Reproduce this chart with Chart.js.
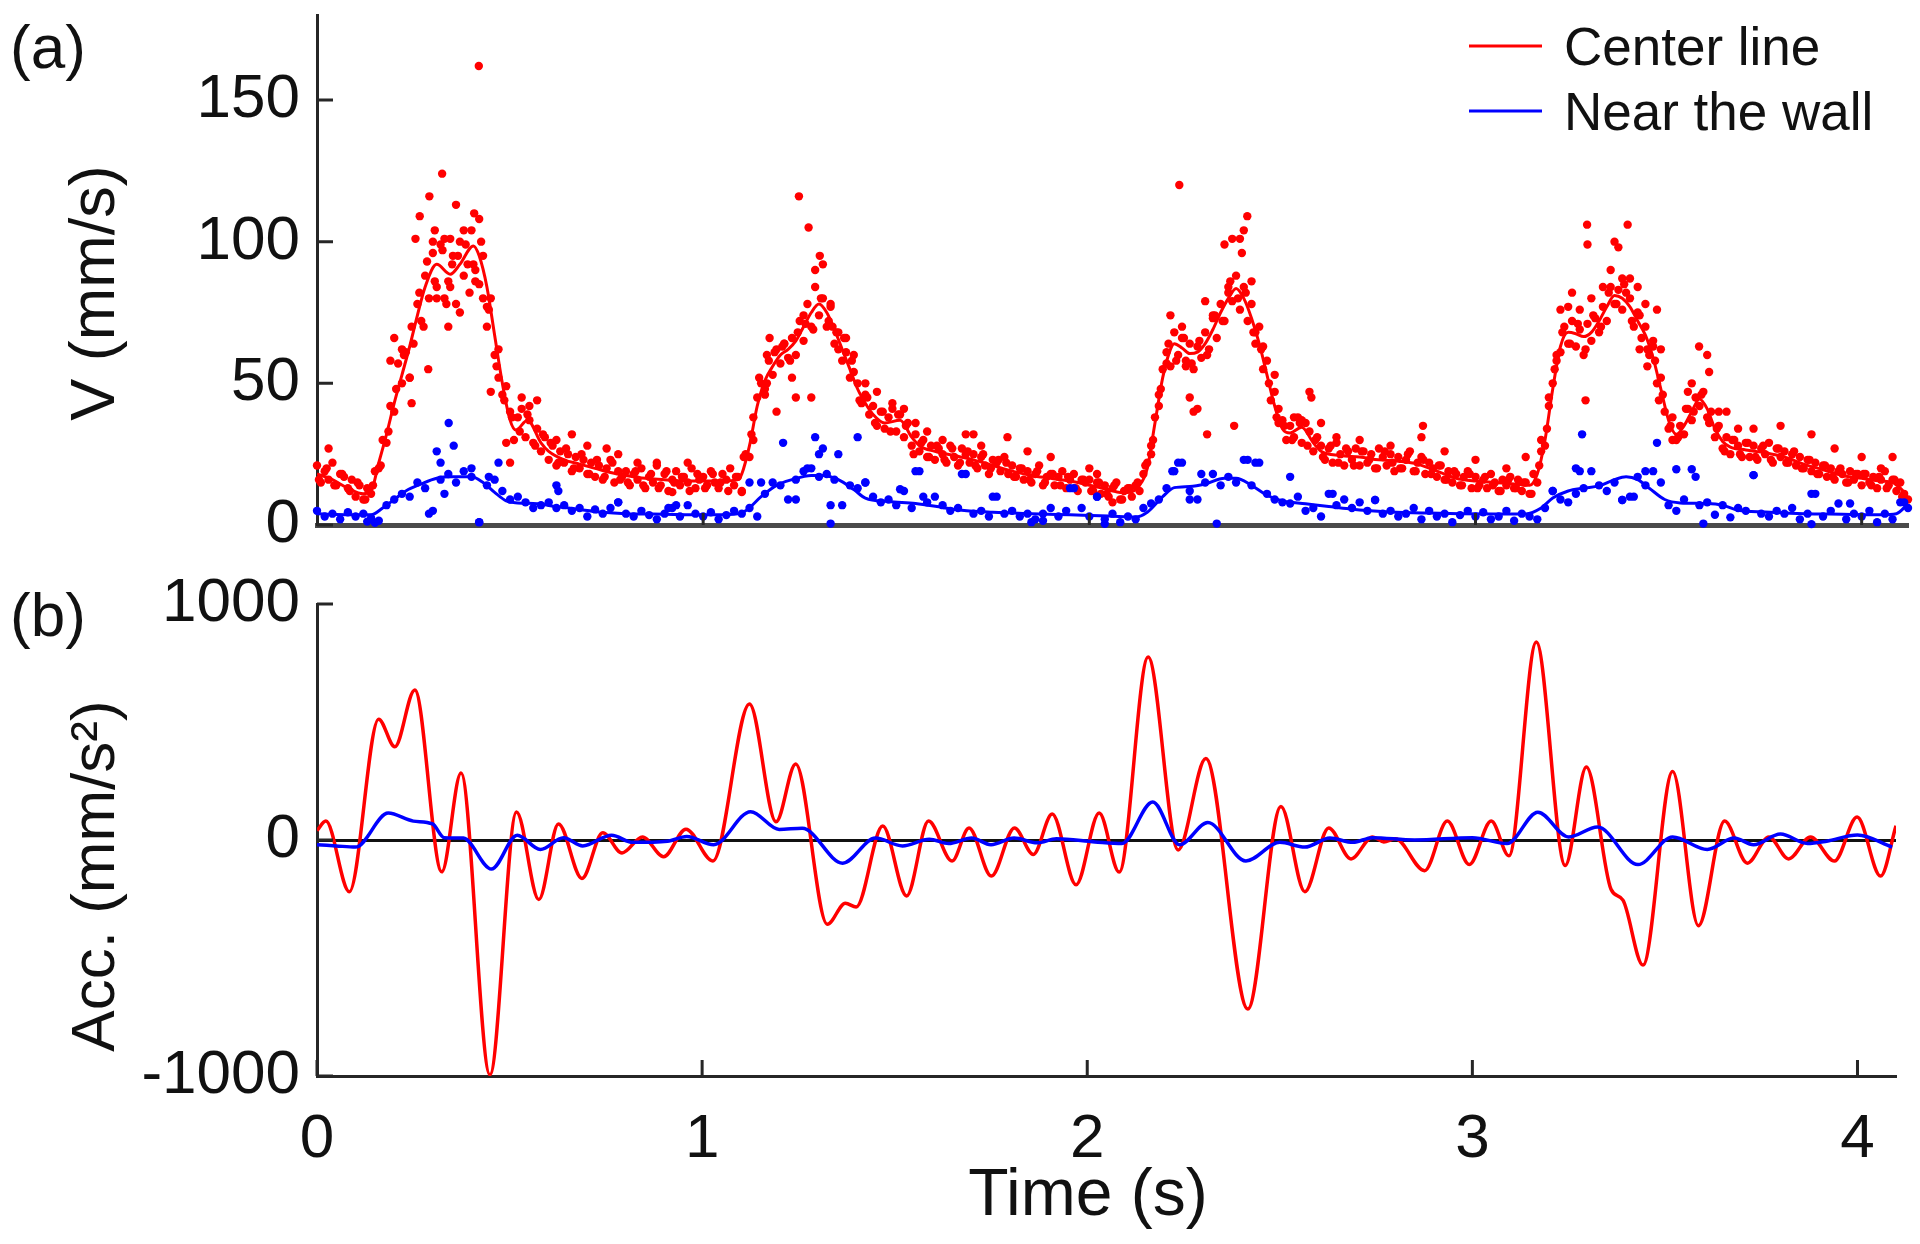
<!DOCTYPE html>
<html lang="en">
<head>
<meta charset="utf-8">
<title>Velocity and acceleration</title>
<script src="https://cdn.jsdelivr.net/npm/chart.js@4.4.1/dist/chart.umd.min.js"></script>
<style>
  html, body { margin: 0; padding: 0; background: #fff; }
  #figure { position: relative; width: 1920px; height: 1244px; overflow: hidden; }
  #figure canvas { position: absolute; left: 0; }
  #vel-chart { top: 0; }
  #acc-chart { top: 560px; }
</style>
</head>
<body>
<div id="figure">
  <canvas id="vel-chart" width="1920" height="560"></canvas>
  <canvas id="acc-chart" width="1920" height="684"></canvas>
</div>
<script>
/* ── Velocity / acceleration figure ─────────────────── */

// ── Tick labels ─────────────────────────────────────
const velTicks = [0, 50, 100, 150];
const accTicks = [-1000, 0, 1000];
const timeTicks = [0, 1, 2, 3, 4];

// ── (a) measured velocity, centre line (one sample every 10 ms) ──
const RED_DT = 0.01;
const redCloud = [
    21, 15, 19, 16, 22, 14, 18, 17, 13, 16,
    10, 14, 9, 13, 11, 19, 20, 30, 29, 42,
    40, 57, 50, 61, 52, 64, 78, 72, 88, 80,
    96, 84, 99, 80, 86, 92, 78, 100, 88, 92,
    104, 90, 85, 95, 77, 80, 60, 62, 46, 49,
    40, 30, 38, 41, 31, 37, 29, 34, 26, 31,
    23, 28, 21, 26, 22, 25, 19, 24, 20, 23,
    18, 22, 17, 21, 16, 20, 23, 15, 19, 17,
    19, 14, 18, 16, 20, 13, 17, 15, 21, 14,
    18, 12, 16, 19, 14, 17, 15, 20, 13, 16,
    17, 14, 19, 15, 13, 18, 16, 20, 14, 17,
    12, 25, 24, 38, 45, 50, 48, 58, 53, 62,
    57, 64, 59, 66, 60, 72, 65, 78, 70, 84,
    74, 80, 70, 77, 64, 68, 58, 61, 52, 54,
    50, 43, 46, 39, 42, 35, 40, 34, 38, 41,
    33, 39, 31, 36, 28, 32, 26, 30, 24, 28,
    23, 27, 25, 22, 28, 24, 21, 27, 25, 22,
    25, 20, 24, 21, 18, 23, 22, 19, 24, 18,
    21, 17, 20, 16, 19, 15, 18, 21, 14, 17,
    18, 14, 17, 19, 13, 16, 18, 12, 16, 15,
    16, 12, 15, 11, 14, 10, 13, 15, 9, 12,
    13, 10, 14, 12, 18, 22, 25, 38, 42, 55,
    61, 56, 68, 60, 66, 58, 64, 55, 63, 59,
    68, 62, 73, 66, 78, 72, 84, 79, 88, 76,
    84, 72, 78, 64, 70, 55, 58, 44, 47, 36,
    37, 30, 35, 31, 38, 29, 36, 33, 26, 31,
    28, 23, 27, 22, 29, 25, 21, 26, 23, 27,
    21, 26, 22, 25, 20, 27, 24, 21, 25, 19,
    24, 20, 23, 26, 19, 22, 24, 18, 22, 20,
    17, 21, 16, 19, 15, 18, 14, 17, 19, 13,
    17, 14, 16, 13, 18, 15, 12, 16, 14, 17,
    13, 16, 12, 15, 11, 18, 15, 26, 28, 42,
    50, 58, 61, 70, 64, 72, 63, 69, 60, 71,
    65, 73, 68, 77, 72, 84, 78, 83, 76, 82,
    80, 70, 75, 66, 70, 60, 63, 50, 52, 40,
    34, 38, 30, 35, 32, 41, 37, 45, 42, 47,
    38, 40, 31, 35, 27, 31, 25, 30, 28, 24,
    29, 24, 28, 23, 27, 25, 29, 22, 27, 24,
    26, 22, 25, 21, 24, 20, 23, 19, 22, 18,
    21, 17, 20, 16, 19, 18, 15, 19, 16, 18,
    14, 18, 15, 17, 13, 16, 19, 14, 16, 12,
    15, 11, 9
];
// second interleaved sweep, starting at 5 ms, one sample every 20 ms
const RED_B_T0 = 0.005;
const RED_B_DT = 0.02;
const redCloudB = [
    16, 20, 14, 18, 12, 15, 9, 14, 21, 33,
    48, 60, 70, 82, 93, 86, 97, 84, 95, 99,
    92, 100, 76, 56, 44, 38, 33, 39, 28, 32,
    29, 22, 27, 20, 25, 18, 23, 17, 22, 16,
    15, 19, 14, 18, 13, 19, 15, 17, 12, 18,
    13, 18, 15, 12, 17, 24, 32, 52, 50, 61,
    63, 58, 68, 71, 69, 80, 72, 68, 66, 58,
    44, 45, 36, 40, 33, 39, 35, 25, 29, 24,
    28, 23, 27, 22, 26, 21, 25, 20, 23, 22,
    17, 20, 16, 19, 15, 18, 14, 17, 13, 16,
    12, 15, 11, 14, 9, 13, 15, 21, 30, 48,
    64, 58, 66, 57, 65, 60, 74, 72, 86, 80,
    82, 68, 62, 50, 38, 35, 30, 36, 28, 30,
    24, 28, 22, 27, 21, 26, 23, 20, 26, 22,
    20, 25, 19, 23, 18, 21, 16, 19, 14, 18,
    13, 17, 14, 12, 16, 13, 15, 11, 21, 34,
    55, 68, 64, 71, 62, 74, 70, 82, 78, 85,
    72, 74, 62, 58, 46, 35, 31, 41, 40, 46,
    36, 34, 26, 30, 25, 29, 24, 28, 23, 27,
    22, 26, 20, 23, 18, 21, 17, 20, 15, 18,
    18, 14, 17, 13, 16, 10
];
// scattered centre-line samples away from the main band [t, V]
const redOutliers = [
    [0.03, 27], [0.19, 58], [0.20, 66], [0.22, 62], [0.24, 52], [0.245, 43], [0.255, 101],
    [0.266, 109], [0.276, 70], [0.288, 55], [0.291, 116], [0.30, 100], [0.305, 104], [0.324, 124],
    [0.33, 101], [0.345, 101], [0.352, 95], [0.36, 113], [0.38, 104], [0.407, 110], [0.42, 108],
    [0.419, 162], [0.31, 80], [0.335, 78], [0.34, 70], [0.37, 75], [0.395, 82], [0.41, 86],
    [0.43, 80], [0.44, 70], [0.45, 47], [0.47, 52], [0.49, 29], [0.50, 22], [0.53, 45],
    [0.55, 42], [0.57, 44], [0.62, 30], [0.66, 32], [0.70, 28], [0.75, 27], [0.78, 25],
    [0.83, 22], [0.88, 22], [0.92, 11.6], [0.96, 22],
    [1.10, 11.6], [1.13, 30], [1.16, 46], [1.165, 60], [1.172, 66], [1.19, 40], [1.21, 64],
    [1.23, 52], [1.24, 45], [1.248, 116], [1.26, 74], [1.273, 105], [1.28, 45], [1.29, 90],
    [1.302, 95], [1.31, 92], [1.33, 78], [1.335, 70], [1.35, 62], [1.37, 66], [1.39, 60],
    [1.42, 50], [1.45, 47], [1.49, 43], [1.52, 41], [1.55, 36], [1.58, 33], [1.62, 30],
    [1.68, 32], [1.70, 32], [1.72, 28], [1.788, 31], [1.84, 26], [1.90, 24], [2.00, 20],
    [2.02, 18], [2.06, 8],
    [2.16, 28], [2.18, 46], [2.20, 57], [2.21, 74], [2.233, 120], [2.24, 70], [2.25, 56],
    [2.26, 45], [2.27, 40], [2.28, 41], [2.30, 79], [2.305, 32], [2.32, 74], [2.35, 99],
    [2.36, 82], [2.37, 101], [2.375, 35], [2.39, 101], [2.395, 96], [2.40, 104], [2.409, 109],
    [2.42, 86], [2.43, 68], [2.45, 63], [2.48, 53], [2.49, 41], [2.53, 38], [2.55, 37],
    [2.575, 45], [2.57, 47], [2.60, 36], [2.64, 31], [2.70, 30], [2.78, 28], [2.864, 35],
    [2.86, 31], [2.92, 26], [3.00, 23], [3.13, 24], [3.08, 20],
    [3.17, 30], [3.19, 45], [3.21, 60], [3.22, 76], [3.24, 77], [3.25, 82], [3.27, 76],
    [3.285, 44], [3.289, 106], [3.29, 99], [3.30, 80], [3.33, 84], [3.35, 90], [3.36, 100],
    [3.37, 98], [3.38, 87], [3.394, 106], [3.40, 87], [3.42, 84], [3.425, 62], [3.44, 78],
    [3.445, 56], [3.46, 65], [3.47, 76], [3.48, 62], [3.475, 44], [3.51, 30], [3.55, 47],
    [3.56, 50], [3.579, 63], [3.60, 60], [3.605, 54], [3.63, 40], [3.65, 40], [3.68, 34],
    [3.72, 34], [3.79, 35], [3.87, 32], [3.93, 27], [4.00, 24], [4.08, 24], [4.05, 20]
];

// ── (a) measured velocity near the wall (one sample every 20 ms) ──
const BLUE_DT = 0.02;
const blueCloud = [
    5, 3, 4, 2, 4.5, 3, 4, 2.5, 1.5, 7,
    9, 11, 10, 15, 13, 5, 16, 18, 15, 19,
    17, 1, 14, 16, 12, 9, 10, 8, 6, 7,
    8, 6, 7, 5, 6, 3, 5.5, 4, 6, 8,
    4, 3, 5, 3.5, 2, 4, 6, 3, 7, 4,
    3, 4.5, 2, 3.5, 5, 4, 6, 3, 11, 15,
    14, 9, 16, 19, 20, 17, 18, 16, 7, 14,
    13, 15, 10, 8, 9, 7, 12, 6, 19, 8,
    10, 7, 5, 6, 18, 4, 5, 3, 10, 4,
    5, 3, 4, 2, 4, 6, 3, 5, 13, 6,
    3, 10, 2, 4, 1, 3, 2, 6, 7.6, 9,
    13, 19, 22, 12, 9, 15, 18, 14, 17, 15,
    23, 14, 22, 11, 9, 8, 7.6, 10, 5, 6,
    3, 11, 7, 9, 6, 8, 5, 8.8, 4, 5,
    3, 4, 6, 2, 5, 3, 4, 1, 3.5, 5,
    3, 4.5, 2, 3, 5, 1.5, 4, 3, 2, 6,
    12, 9, 8, 11, 13, 19, 14, 12, 15, 8.8,
    10, 17, 14, 19, 15, 7, 5, 9, 19.7, 7,
    8, 3.6, 7, 2.7, 6, 5, 17.6, 4, 3, 5,
    4, 6, 2, 4, 11, 3, 5, 7.6, 2, 4,
    3, 5, 1, 4, 2, 8, 6
];
const blueOutliers = [
    [0.341, 36], [0.31, 26], [0.354, 28], [0.32, 22], [0.40, 20], [0.47, 22], [0.445, 17],
    [0.62, 14], [0.625, 12], [0.33, 11], [0.29, 4], [0.42, 1], [0.78, 8], [0.91, 6], [0.93, 7],
    [0.15, 0.8], [0.13, 1.2], [1.207, 29], [1.29, 31], [1.30, 25], [1.31, 27], [1.40, 31],
    [1.35, 25], [1.27, 20], [1.42, 15], [1.12, 15], [1.15, 15], [1.51, 12.6], [1.55, 19],
    [1.57, 10], [1.67, 18], [1.75, 10], [1.33, 7], [1.24, 9], [1.95, 13], [2.02, 10],
    [2.215, 19], [2.23, 22], [2.29, 18], [2.41, 23], [2.43, 22], [2.26, 9], [2.52, 17],
    [2.63, 11], [1.85, 1], [1.88, 1.5], [3.276, 32], [3.47, 29], [3.26, 20], [3.27, 19],
    [3.44, 19], [3.52, 19.7], [3.57, 17], [3.72, 17.6], [3.20, 12], [2.74, 8.8], [3.38, 8.8],
    [3.41, 10], [3.87, 11], [3.97, 7.6], [4.11, 8], [3.59, 0.5], [3.87, 0.3], [2.33, 0.5],
    [2.04, 0.4], [1.33, 0.5]
];

// ── (a) smoothed velocity curves ────────────────────
const centerT = [0, 0.04, 0.08, 0.12, 0.14, 0.16, 0.18, 0.20, 0.22, 0.24, 0.26, 0.28, 0.31, 0.345, 0.37,
    0.405, 0.42, 0.44, 0.46, 0.48, 0.50, 0.515, 0.545, 0.58, 0.60, 0.64, 0.68, 0.72, 0.76, 0.80,
    0.85, 0.90, 0.95, 1.00, 1.05, 1.09, 1.10, 1.12, 1.14, 1.16, 1.18, 1.20, 1.22, 1.24, 1.26,
    1.28, 1.30, 1.32, 1.34, 1.36, 1.38, 1.40, 1.42, 1.44, 1.47, 1.51, 1.54, 1.56, 1.60, 1.65,
    1.70, 1.75, 1.80, 1.85, 1.90, 1.95, 2.00, 2.05, 2.08, 2.10, 2.13, 2.15, 2.17, 2.19, 2.21,
    2.22, 2.24, 2.26, 2.28, 2.30, 2.32, 2.34, 2.36, 2.38, 2.40, 2.42, 2.44, 2.46, 2.48, 2.50,
    2.52, 2.55, 2.58, 2.60, 2.65, 2.70, 2.75, 2.80, 2.85, 2.90, 2.95, 3.00, 3.05, 3.10, 3.14,
    3.16, 3.18, 3.20, 3.22, 3.24, 3.26, 3.28, 3.30, 3.32, 3.34, 3.36, 3.38, 3.40, 3.42, 3.44,
    3.46, 3.48, 3.50, 3.52, 3.54, 3.56, 3.58, 3.60, 3.62, 3.64, 3.66, 3.70, 3.75, 3.80, 3.85,
    3.90, 3.95, 4.00, 4.05, 4.08, 4.10, 4.12];
const centerV = [18, 16, 13, 11, 12, 22, 32, 43, 53, 63, 74, 84, 92, 88.5, 92,
    98.5, 95, 84, 67, 50, 37, 33.5, 37, 29, 26, 23, 21.5, 20, 18.5, 17.5,
    16.5, 16, 15.5, 15.5, 15.5, 16, 18, 28, 42, 51, 56, 60, 62, 65, 70,
    75, 78, 75, 69, 62, 55, 48, 43, 39, 36, 37, 31, 28, 26, 24.5,
    23, 21, 19, 17.5, 16.5, 15.5, 14, 12.5, 11.5, 11.5, 14, 20, 36, 52, 62,
    64, 62.5, 60.5, 61, 64, 69, 75, 80, 83.5, 80, 73, 64, 53, 42, 34,
    32.5, 34.5, 29, 26, 24.5, 24, 23, 22.5, 21.5, 19, 16.5, 15.5, 15, 14.5, 14,
    18, 30, 48, 63, 68, 67.5, 66.5, 68, 72, 77, 81, 80, 77, 72, 67,
    59, 48, 37, 32, 35, 40, 44.5, 41, 34, 29.5, 27.5, 26.5, 25.5, 24, 21.5,
    19.5, 17.5, 16.5, 15.5, 15, 13, 10];
const wallT = [0, 0.05, 0.10, 0.14, 0.17, 0.20, 0.23, 0.27, 0.31, 0.35, 0.40, 0.43, 0.46, 0.49, 0.52,
    0.57, 0.62, 0.68, 0.74, 0.80, 0.90, 1.00, 1.08, 1.11, 1.15, 1.19, 1.23, 1.28, 1.31, 1.35,
    1.39, 1.42, 1.48, 1.55, 1.62, 1.67, 1.75, 1.85, 1.95, 2.05, 2.12, 2.15, 2.19, 2.22, 2.26,
    2.30, 2.35, 2.38, 2.42, 2.46, 2.50, 2.56, 2.62, 2.70, 2.78, 2.88, 2.96, 3.05, 3.13, 3.17,
    3.20, 3.24, 3.28, 3.32, 3.36, 3.39, 3.42, 3.45, 3.49, 3.53, 3.60, 3.64, 3.68, 3.75, 3.85,
    3.95, 4.05, 4.09, 4.12];
const wallV = [4, 3.7, 3.6, 3.6, 6, 9, 12, 14.5, 16.5, 17, 17, 15, 11.5, 8.5, 7.8,
    7.5, 6.5, 5.5, 4.5, 4, 3.8, 3.6, 3.8, 5, 10, 14, 16, 17.5, 17.5, 16,
    12.5, 9.5, 8.3, 7.6, 6.2, 5.2, 4.5, 4, 3.6, 3.2, 2.8, 4.5, 10, 13.2, 13.6,
    14.5, 16.5, 16.5, 14, 10.5, 8.5, 7.5, 6.5, 5.3, 4.6, 4.2, 4, 3.9, 3.9, 6,
    9.5, 12, 13, 13.8, 16, 17, 16, 13, 9, 7.8, 7.6, 7, 5.2, 4.6, 4,
    3.8, 3.6, 4, 7.5];

// ── (b) acceleration curves ─────────────────────────
const accCenterT = [0, 0.023, 0.084, 0.160, 0.202, 0.254, 0.324, 0.374, 0.449, 0.518, 0.576, 0.627,
    0.688, 0.742, 0.792, 0.845, 0.900, 0.958, 1.028, 1.123, 1.192, 1.243, 1.325, 1.372, 1.400,
    1.469, 1.531, 1.588, 1.649, 1.693, 1.751, 1.811, 1.860, 1.909, 1.971, 2.031, 2.083, 2.158,
    2.236, 2.308, 2.417, 2.503, 2.565, 2.627, 2.685, 2.741, 2.770, 2.800, 2.876, 2.935, 2.992,
    3.049, 3.095, 3.166, 3.241, 3.296, 3.360, 3.391, 3.443, 3.520, 3.587, 3.655, 3.714, 3.770,
    3.821, 3.878, 3.940, 3.999, 4.060, 4.100];
const accCenterA = [40, 80, -219, 512, 395, 636, -135, 284, -995, 119, -252, 68,
    -163, 31, -55, 13, -71, 46, -89, 576, 77, 322, -357, -268, -284,
    59, -237, 80, -89, 51, -153, 51, -61, 110, -190, 114, -136, 775,
    -42, 345, -716, 142, -219, 51, -80, 13, -8, 5, -130, 80, -104,
    80, -67, 839, -108, 309, -209, -255, -530, 290, -363, 80, -98, 13,
    -80, 13, -89, 97, -153, 60];
const accWallT = [0, 0.05, 0.10, 0.185, 0.25, 0.30, 0.33, 0.38, 0.453, 0.52, 0.58, 0.64, 0.69, 0.765,
    0.82, 0.91, 0.96, 1.03, 1.126, 1.20, 1.26, 1.365, 1.45, 1.52, 1.59, 1.64, 1.70, 1.75, 1.81,
    1.87, 1.92, 2.02, 2.09, 2.17, 2.24, 2.313, 2.412, 2.50, 2.565, 2.63, 2.69, 2.74, 2.85, 3.00,
    3.09, 3.17, 3.25, 3.325, 3.43, 3.52, 3.61, 3.68, 3.73, 3.80, 3.87, 3.92, 4.00, 4.09];
const accWallA = [-20, -25, -30, 114, 80, 68, 10, 8, -123, 20, -40, 10, -25, 20,
    -10, -5, 15, -20, 120, 45, 50, -98, 8, -25, 3, -15, 8, -20, 8,
    -12, 5, -8, -15, 161, -20, 74, -89, -10, -30, 8, -10, 10, 0, 10,
    -15, 118, 13, 55, -104, 13, -40, 8, -20, 25, -15, -5, 21, -30];

// ── Helpers ─────────────────────────────────────────
const RED = '#ff0000';
const BLUE = '#0000ff';
const AXIS = '#262626';
const FONT = "'Liberation Sans', Arial, Helvetica, sans-serif";

Chart.defaults.font.family = FONT;
Chart.defaults.color = '#111';

const zip = (ts, vs) => ts.map((t, i) => ({ x: t, y: vs[i] }));
const sampled = (vs, t0, dt) => vs.map((v, i) => ({ x: +(t0 + i * dt).toFixed(3), y: v }));
const pairs = list => list.map(p => ({ x: p[0], y: p[1] }));
const fixedTicks = list => scale => { scale.ticks = list.map(v => ({ value: v })); };

// pin the axis boxes so the plot area lands exactly where the figure has it
const fixWidth = w => s => { s.width = w; s.paddingTop = 0; s.paddingBottom = 0; };
const fixHeight = h => s => { s.height = h; s.paddingLeft = 0; s.paddingRight = 0; };

// inward MATLAB-style tick marks
const inwardTicks = {
    id: 'inwardTicks',
    afterDatasetsDraw(chart, args, opts) {
        const { ctx, chartArea } = chart;
        const xs = chart.scales.x, ys = chart.scales.y;
        ctx.save();
        ctx.strokeStyle = AXIS;
        ctx.lineWidth = 3;
        ctx.beginPath();
        (opts.xTicks || []).forEach(v => {
            const px = xs.getPixelForValue(v);
            ctx.moveTo(px, chartArea.bottom);
            ctx.lineTo(px, chartArea.bottom - opts.xLen);
        });
        (opts.yTicks || []).forEach(v => {
            const py = ys.getPixelForValue(v);
            ctx.moveTo(chartArea.left, py);
            ctx.lineTo(chartArea.left + opts.yLen, py);
        });
        ctx.stroke();
        ctx.restore();
    }
};

// panel letters and axis titles
const figText = {
    id: 'figText',
    afterDraw(chart, args, opts) {
        const ctx = chart.ctx;
        (opts.items || []).forEach(it => {
            ctx.save();
            ctx.fillStyle = '#111';
            ctx.font = `${it.size}px ${FONT}`;
            ctx.textAlign = 'center';
            ctx.textBaseline = 'middle';
            ctx.translate(it.x, it.y);
            if (it.rotate) ctx.rotate(-Math.PI / 2);
            ctx.fillText(it.text, 0, 0);
            ctx.restore();
        });
    }
};

// legend drawn inside the plot, top right
const figLegend = {
    id: 'figLegend',
    afterDraw(chart, args, opts) {
        if (!opts.rows) return;
        const ctx = chart.ctx;
        const lines = chart.data.datasets.filter(d => d.showLine !== false);
        ctx.save();
        ctx.font = `${opts.size}px ${FONT}`;
        ctx.textAlign = 'left';
        ctx.textBaseline = 'middle';
        lines.forEach((d, i) => {
            const y = opts.rows[i];
            ctx.strokeStyle = d.borderColor;
            ctx.lineWidth = 3;
            ctx.beginPath();
            ctx.moveTo(opts.x0, y);
            ctx.lineTo(opts.x1, y);
            ctx.stroke();
            ctx.fillStyle = '#111';
            ctx.fillText(d.label, opts.textX, y + 4);
        });
        ctx.restore();
    }
};

function pointSet(label, data, color, order) {
    return {
        label, data, showLine: false, order,
        pointRadius: 4.2, pointHoverRadius: 0, pointBorderWidth: 0,
        pointBackgroundColor: color, borderColor: color, clip: 6
    };
}

function lineSet(label, data, color, width, order) {
    return {
        label, data, order,
        borderColor: color, borderWidth: width,
        pointRadius: 0, pointHoverRadius: 0,
        cubicInterpolationMode: 'monotone', fill: false
    };
}

const redPoints = sampled(redCloud, 0, RED_DT)
    .concat(sampled(redCloudB, RED_B_T0, RED_B_DT))
    .concat(pairs(redOutliers));
const bluePoints = sampled(blueCloud, 0, BLUE_DT).concat(pairs(blueOutliers));

// ── (a) Velocity panel ──────────────────────────────
new Chart(document.getElementById('vel-chart'), {
    type: 'line',
    data: {
        datasets: [
            lineSet('Center line', zip(centerT, centerV), RED, 3, 1),
            lineSet('Near the wall', zip(wallT, wallV), BLUE, 3, 2),
            pointSet('centre samples', redPoints, RED, 4),
            pointSet('wall samples', bluePoints, BLUE, 3)
        ]
    },
    options: {
        responsive: false,
        devicePixelRatio: 1,
        animation: false,
        events: [],
        layout: { autoPadding: false, padding: { top: 15, right: 12, left: 0, bottom: 0 } },
        scales: {
            x: {
                type: 'linear', min: 0, max: 4.12,
                grid: { display: false, drawTicks: false },
                border: { display: true, color: '#4a4a4a', width: 5 },
                ticks: { display: false },
                afterBuildTicks: fixedTicks(timeTicks),
                afterFit: fixHeight(35)
            },
            y: {
                min: 0, max: 180,
                grid: { display: false, drawTicks: false },
                border: { display: true, color: AXIS, width: 3 },
                ticks: { padding: 17, font: { size: 62 }, callback: v => String(v) },
                afterBuildTicks: fixedTicks(velTicks),
                afterFit: fixWidth(317)
            }
        },
        plugins: {
            legend: { display: false },
            tooltip: { enabled: false },
            inwardTicks: { xTicks: [1, 2, 3, 4], xLen: 12, yTicks: velTicks, yLen: 16 },
            figText: {
                items: [
                    { text: '(a)', x: 48, y: 51, size: 62 },
                    { text: 'V (mm/s)', x: 97, y: 293, size: 63, rotate: true }
                ]
            },
            figLegend: { x0: 1469, x1: 1542, textX: 1564, rows: [46, 111], size: 53 }
        }
    },
    plugins: [inwardTicks, figText, figLegend]
});

// ── (b) Acceleration panel ──────────────────────────
new Chart(document.getElementById('acc-chart'), {
    type: 'line',
    data: {
        datasets: [
            lineSet('Center line', zip(accCenterT, accCenterA), RED, 3.5, 2),
            lineSet('Near the wall', zip(accWallT, accWallA), BLUE, 3.5, 1)
        ]
    },
    options: {
        responsive: false,
        devicePixelRatio: 1,
        animation: false,
        events: [],
        layout: { autoPadding: false, padding: { top: 44, right: 24, left: 0, bottom: 0 } },
        scales: {
            x: {
                type: 'linear', min: 0, max: 4.1,
                grid: { display: false, drawTicks: false },
                border: { display: true, color: AXIS, width: 3 },
                ticks: { padding: 27, font: { size: 62 }, maxRotation: 0, callback: v => String(v) },
                afterBuildTicks: fixedTicks(timeTicks),
                afterFit: fixHeight(168)
            },
            y: {
                min: -1000, max: 1000,
                grid: {
                    drawTicks: false,
                    lineWidth: 3,
                    color: c => (c.tick && c.tick.value === 0 ? '#111' : 'rgba(0,0,0,0)')
                },
                border: { display: true, color: AXIS, width: 3 },
                ticks: { padding: 17, font: { size: 62 }, callback: v => String(v) },
                afterBuildTicks: fixedTicks(accTicks),
                afterFit: fixWidth(317)
            }
        },
        plugins: {
            legend: { display: false },
            tooltip: { enabled: false },
            inwardTicks: { xTicks: timeTicks, xLen: 16, yTicks: accTicks, yLen: 16 },
            figText: {
                items: [
                    { text: '(b)', x: 48, y: 59, size: 62 },
                    { text: 'Acc. (mm/s\u00B2)', x: 97, y: 316, size: 62, rotate: true },
                    { text: 'Time (s)', x: 1088, y: 637, size: 66 }
                ]
            }
        }
    },
    plugins: [inwardTicks, figText]
});
</script>
</body>
</html>
